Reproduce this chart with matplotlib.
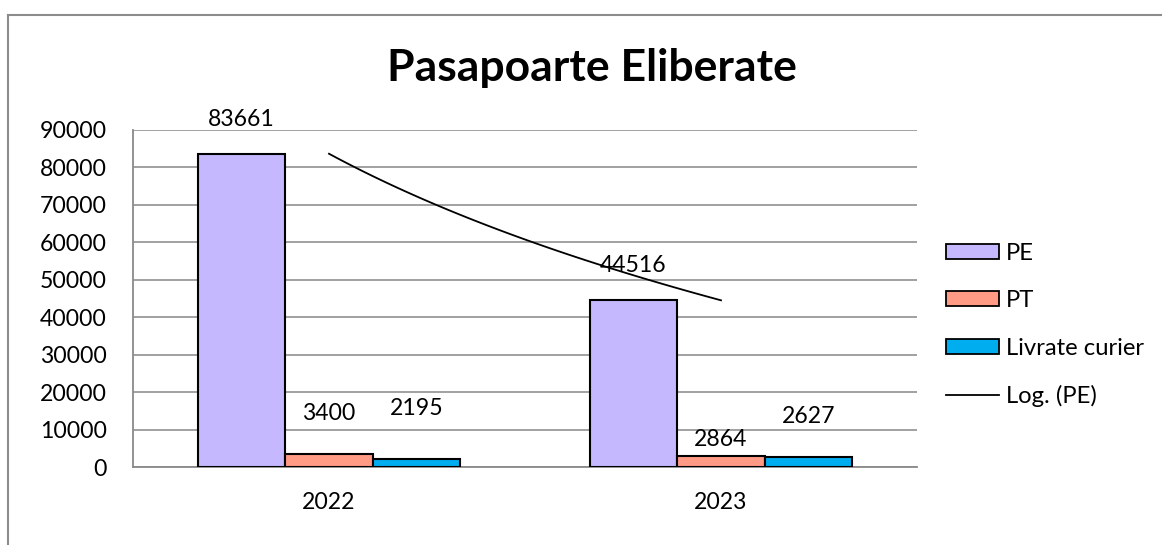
import numpy as np
import matplotlib
matplotlib.use("Agg")
import matplotlib.pyplot as plt
from matplotlib.patches import Patch
from matplotlib.lines import Line2D

years = ["2022", "2023"]
pe = [83661, 44516]
pt = [3400, 2864]
curier = [2195, 2627]
series_names = ["PE", "PT", "Livrate curier"]
trend_label = "Log. (PE)"
title = "Pasapoarte Eliberate"
yticks = list(range(0, 90001, 10000))

colors = ["#C5B8FF", "#FF9A85", "#00AEEF"]
label_offsets = [[25, 25], [29.5, 12], [36, 29.5]]  # points above bar top

plt.rcParams['font.family'] = ['Lato', 'DejaVu Sans']
W, H = 1162, 545
FS = 16.6
fig = plt.figure(figsize=(W / 100, H / 100), dpi=100)
ax = fig.add_axes([133 / W, 1 - 467 / H, (917 - 133) / W, (467 - 130) / H])

x = np.arange(len(years))
bw = 0.223
all_series = [pe, pt, curier]
for i, (vals, col) in enumerate(zip(all_series, colors)):
    xs = x + (i - 1) * bw
    ax.bar(xs, vals, width=bw, color=col, edgecolor="black", linewidth=1.5, zorder=3)
    for j, (xx, v) in enumerate(zip(xs, vals)):
        ax.annotate(str(v), (xx, v), xytext=(0, label_offsets[i][j]), textcoords="offset points",
                    ha="center", va="center", fontsize=FS, color="black", zorder=5)

# logarithmic trendline for PE
lx = np.log(x + 1)
b, a = np.polyfit(lx, pe, 1)
xt = np.linspace(x[0], x[-1], 100)
ax.plot(xt, a + b * np.log(xt + 1), color="black", lw=1.3, zorder=4)

ax.set_xlim(-0.5, len(years) - 0.5)
ax.set_ylim(0, 90000)
ax.set_yticks(yticks)
ax.set_yticklabels([str(t) for t in yticks], fontsize=FS)
ax.set_xticks(x)
ax.set_xticklabels(years, fontsize=FS)
ax.tick_params(axis="y", length=0, pad=19)
ax.tick_params(axis="x", length=0, pad=18)
ax.grid(axis="y", color="#9a9a9a", lw=1.3, zorder=0)
for s in ["top", "right"]:
    ax.spines[s].set_visible(False)
for s in ["left", "bottom"]:
    ax.spines[s].set_color("#8a8a8a")
    ax.spines[s].set_linewidth(1.3)

handles = [Patch(facecolor=c, edgecolor="black", linewidth=1.3) for c in colors]
handles.append(Line2D([], [], color="black", lw=1.3))
fig.legend(handles, series_names + [trend_label], loc="upper left",
           bbox_to_anchor=(946 / W, 1 - 243 / H), frameon=False, fontsize=17.2,
           handlelength=2.2, handleheight=0.6, labelspacing=1.1, borderpad=0,
           handletextpad=0.3, borderaxespad=0)

fig.text(592 / W, 1 - 68 / H, title, ha="center", va="center", fontsize=32, fontweight="bold")

# chart border (top and left edges)
fig.add_artist(Line2D([8 / W, 1], [1 - 15 / H, 1 - 15 / H], color="#8c8c8c", lw=1.5))
fig.add_artist(Line2D([8 / W, 8 / W], [0, 1 - 15 / H], color="#8c8c8c", lw=1.5))

fig.savefig("out.png", dpi=100)
